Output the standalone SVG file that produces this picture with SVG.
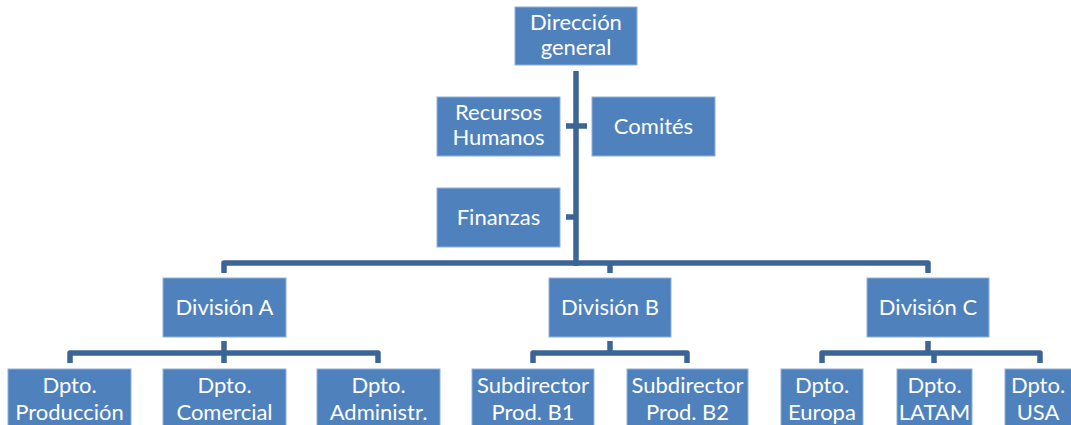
<svg xmlns="http://www.w3.org/2000/svg" width="1071" height="425" viewBox="0 0 1071 425">
<style>
.box{fill:#4f81bd;stroke:#8fb0da;stroke-width:1}
.t{font-family:Lato,"Noto Sans","Liberation Sans",sans-serif;font-size:22px;fill:#ffffff;text-anchor:middle}
.c{fill:none;stroke:#3b6596;stroke-width:5.5;stroke-linejoin:round}
</style>
<rect width="1071" height="425" fill="#ffffff"/>
<g id="connectors">
<path class="c" d="M576 71 V266"/>
<path class="c" d="M566 126 H587"/>
<path class="c" d="M566 217 H576"/>
<path class="c" d="M224 273 V263 H928 V273"/>
<path class="c" d="M610 263 V273"/>
<path class="c" d="M224 341 V363"/>
<path class="c" d="M70 363 V353 H378 V363"/>
<path class="c" d="M610 341 V353"/>
<path class="c" d="M533 363 V353 H687 V363"/>
<path class="c" d="M928 341 V353"/>
<path class="c" d="M822 363 V353 H1040 V363"/>
<path class="c" d="M934 353 V363"/>
</g>
<g id="direccion"><rect class="box" x="515" y="7" width="122" height="58"/><text class="t" x="576" y="30">Dirección</text><text class="t" x="576" y="55">general</text></g>
<g id="rrhh"><rect class="box" x="437" y="97" width="123" height="59"/><text class="t" x="498.5" y="120">Recursos</text><text class="t" x="498.5" y="145">Humanos</text></g>
<g id="comites"><rect class="box" x="592" y="97" width="123" height="59"/><text class="t" x="653.5" y="134">Comités</text></g>
<g id="finanzas"><rect class="box" x="437" y="188" width="123" height="59"/><text class="t" x="498.5" y="224.5">Finanzas</text></g>
<g id="divA"><rect class="box" x="163" y="278" width="123" height="59"/><text class="t" x="224.5" y="315">División A</text></g>
<g id="divB"><rect class="box" x="549" y="278" width="122" height="59"/><text class="t" x="610" y="315">División B</text></g>
<g id="divC"><rect class="box" x="867" y="278" width="122" height="59"/><text class="t" x="928" y="315">División C</text></g>
<g id="produccion"><rect class="box" x="8" y="369" width="123" height="70"/><text class="t" x="69.5" y="393">Dpto.</text><text class="t" x="69.5" y="420">Producción</text></g>
<g id="comercial"><rect class="box" x="163" y="369" width="123" height="70"/><text class="t" x="224.5" y="393">Dpto.</text><text class="t" x="224.5" y="420">Comercial</text></g>
<g id="administr"><rect class="box" x="317" y="369" width="123" height="70"/><text class="t" x="378.5" y="393">Dpto.</text><text class="t" x="378.5" y="420">Administr.</text></g>
<g id="subB1"><rect class="box" x="472" y="369" width="122" height="70"/><text class="t" x="533" y="393">Subdirector</text><text class="t" x="533" y="420">Prod. B1</text></g>
<g id="subB2"><rect class="box" x="627" y="369" width="121" height="70"/><text class="t" x="687.5" y="393">Subdirector</text><text class="t" x="687.5" y="420">Prod. B2</text></g>
<g id="europa"><rect class="box" x="781" y="369" width="82" height="70"/><text class="t" x="822" y="393">Dpto.</text><text class="t" x="822" y="420">Europa</text></g>
<g id="latam"><rect class="box" x="897" y="369" width="75" height="70"/><text class="t" x="934.5" y="393">Dpto.</text><text class="t" x="934.5" y="420">LATAM</text></g>
<g id="usa"><rect class="box" x="1005" y="369" width="72" height="70"/><text class="t" x="1038" y="393">Dpto.</text><text class="t" x="1038" y="420">USA</text></g>
</svg>
